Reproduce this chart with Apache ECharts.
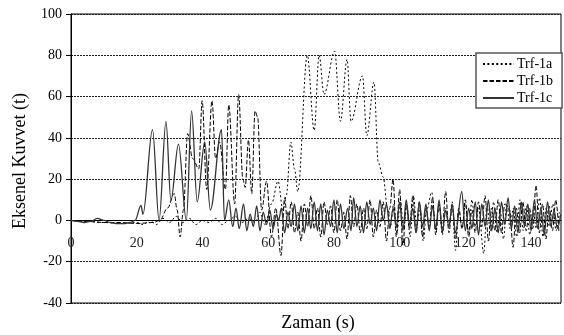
<!DOCTYPE html>
<html><head><meta charset="utf-8">
<script src="https://cdn.jsdelivr.net/npm/echarts@6/dist/echarts.min.js"></script>
<style>html,body{margin:0;padding:0;background:#fff}#c{width:564px;height:335px}</style>
</head><body><div id="c"></div>
<script>
var xTicks = [0, 20, 40, 60, 80, 100, 120, 140];
var yTicks = [-40, -20, 0, 20, 40, 60, 80, 100];
var seriesNames = ['Trf-1a', 'Trf-1b', 'Trf-1c'];

// Trf-1a (dotted) turning points
var aX = [0,5,10,15,20,22,24,26,28,30,32,34,36,38,40,42,44,46,48,50,52,54,56,57.5,59,61,63,64.5,65.5,66.9,68,69,71.9,74,75.5,77,80.2,82,84,85.2,88.7,90,92.2,93.5,95,96.3,97.2,98.2,99.2,100.2,101.2,102.2,103.2,104.2,105.2,106.2,107.2,108.2,109.8,111,112,113,114,115,116,117,118,119,120,121,122,123,124,125.6,126.6,127.6,128.6,129.6,130.6,131.6,132.6,133.6,134.6,135.6,136.6,137.6,138.6,139.6,140.6,141.6,142.6,143.6,144.6,145.6,146.6,147.6,148.6];
var aY = [0,-0.5,-1,-1.5,-1,-2,0,-2,1,-1,2,-1,1,-2,0,-1,1,-2,0,2,-1,1,-1,4,-2,8,19,5,12,38,25,14,80,43.6,80,61,82,48,78,48,70,41,67,28,21,6,-3,8,-6,10,-4,7,-8,12,-3,6,-10,5,13.7,-5,8,-7,6,-3,9,-14.5,5,-4,8,-6,10,-3,6,-16,7,-5,9,-6,5,-9,8,-4,6,-8,10,-5,7,-7,5,-4,11,-8,6,-3,8,-5,4];

// Trf-1b (dashed) turning points
var bX = [0,5,10,15,20,25,27,29.4,31.4,32.3,33.2,34.2,35.5,37,38.9,39.9,41.3,42.9,44,45.2,47,48,49.8,51,52.3,53,54,55,56,56.8,58,59.5,61,62.3,63.9,65,66,67,68,69,70,71,72,73,74,75,76,77,78,79,80,81,82,83,84,85,86,87,88,89,90,91,92,93,94,95,96,97,98,99,100,101,102,103,104,105,106,107,108,109,110,111,112,113,114,115,116,117,118,119,120,121,122,123,124,125,126,127,128,129,130,131,132,133.5,134.5,135.5,136.5,137.5,138.5,139.5,140.5,141.5,142.5,143.5,144.5,145.5,146.5,147.5,148.5];
var bY = [0,-0.5,-1,-1,-1.5,-1,0,6,13,5,-8,5,42,30,25,58,15,58,30,38,15,56,8,61,20,16,39,13,53,50,5,19,-8,6,-17,11,-4,9,-6,4,-10,8,-3,12,-4,6,-8,9,-2,7,-6,10,-5,4,-9,12,-3,8,-6,6,-4,10,-8,5,-3,9,-10,6,20,-8,15,-12,8,-4,12,-6,9,-8,6,-3,11,-7,8,-4,14,-6,7,-9,6,-4,10,-8,5,-6,9,-3,12,-10,6,-5,10,-6,8,5,-13,6,-6,9,-5,6,-4,17,-6,8,-9,7,-5,10,-6];

// Trf-1c (solid) turning points
var cX = [0,2,4,6,8,10,12,14,16,18,19.5,21.3,21.9,24.8,26.8,28.9,30.4,32.7,35.1,36.7,38.4,40.7,42.4,45.8,46.7,48,49.2,50.2,51.2,52.5,53.5,54.5,55.5,56.5,57.5,58.5,59.5,60.5,61.5,62.5,63.2,64,65,66,67,68,69,70,71,72,73,74,75,76,77,78,79,80,81,82,83,84.2,85.2,86,87,88,89,90,91,92,93,94,95,96,97,98,99,100,101,102,103,104,105,106,107,108,109,110,111,112,113,114,115,116,117,118.9,120,121,122,123,124,125,126,127,128,129,130,131,132,133,134,135,136,137,138,139,140,141,142,143,144,145,146,147,148,149];
var cY = [0,-0.5,-1,-0.5,1,0,-1,-1.5,-1.5,-1,0,7.3,3,44,0,48,9.7,37,0,53,9,38,5,44,0,10,-3,6,-4,8,-5,3,-3,7,-5,4,-2,5,-4,3,0,6,-6,4,-3,8,-5,7,-6,6,-4,9,-5,8,-7,5,-3,10,-6,8,-4,6,-5,11,-3,7,-6,9,-2,6,-5,10,0,8,-4,6,-3,9,-5,10,-2,6,-6,9,-3,8,-5,7,-4,10,-6,5,-3,8,-6,14,-5,6,-4,9,-7,8,-3,10,-5,6,-6,9,-2,11,-4,7,-6,9,-3,8,-5,10,-4,6,-7,9,-3,5,-4,3];

function pairs(xs, ys) { return xs.map(function (x, i) { return [x, ys[i]]; }); }

var FONT = 'Liberation Serif';
var chart = echarts.init(document.getElementById('c'), null, {renderer: 'canvas'});
chart.setOption({
  animation: false,
  backgroundColor: '#fff',
  grid: {left: 71, right: -1, top: 14, bottom: 32, show: true, borderColor: '#000', borderWidth: 1, backgroundColor: 'transparent'},
  xAxis: {
    type: 'value', min: xTicks[0], max: 149.1, interval: 20,
    axisLine: {onZero: true, lineStyle: {color: '#000', width: 1}},
    axisTick: {show: false},
    splitLine: {show: false},
    axisLabel: {color: '#222', fontFamily: FONT, fontSize: 14, margin: -67,
      formatter: function (v) { return xTicks.indexOf(v) >= 0 ? String(v) : ''; }}
  },
  yAxis: {
    type: 'value', min: yTicks[0], max: yTicks[yTicks.length - 1], interval: 20,
    axisLine: {show: true, lineStyle: {color: '#000', width: 1}},
    axisTick: {show: true, length: 5, lineStyle: {color: '#000'}},
    splitLine: {show: true, lineStyle: {color: '#222', type: [2, 1], width: 1}},
    axisLabel: {color: '#000', fontFamily: FONT, fontSize: 14, margin: 9}
  },
  legend: {
    orient: 'vertical', left: 476, top: 53, padding: [4, 9, 3, 6], itemGap: 3,
    itemWidth: 31, itemHeight: 14, backgroundColor: '#fff', borderColor: '#555', borderWidth: 1.5,
    itemStyle: {opacity: 0},
    textStyle: {fontFamily: FONT, fontSize: 14, color: '#000', padding: [0, 0, 0, -2]},
    data: seriesNames
  },
  graphic: [
    {type: 'text', x: 318, y: 323, style: {text: 'Zaman (s)', font: '18px "Liberation Serif"', fill: '#000', textAlign: 'center', textVerticalAlign: 'middle'}},
    {type: 'text', x: 20, y: 161, rotation: Math.PI / 2, style: {text: 'Eksenel Kuvvet (t)', font: '18px "Liberation Serif"', fill: '#000', textAlign: 'center', textVerticalAlign: 'middle'}}
  ],
  series: [
    {name: seriesNames[0], type: 'line', data: pairs(aX, aY), symbol: 'none', smooth: 0.35, smoothMonotone: 'x',
      lineStyle: {color: '#000', width: 1, type: [2, 2.4]}, itemStyle: {color: '#000'}},
    {name: seriesNames[1], type: 'line', data: pairs(bX, bY), symbol: 'none', smooth: 0.35, smoothMonotone: 'x',
      lineStyle: {color: '#000', width: 1, type: [4.5, 2]}, itemStyle: {color: '#000'}},
    {name: seriesNames[2], type: 'line', data: pairs(cX, cY), symbol: 'none', smooth: 0.35, smoothMonotone: 'x',
      lineStyle: {color: '#333', width: 1.3, type: 'solid'}, itemStyle: {color: '#333'}}
  ]
});
</script></body></html>
